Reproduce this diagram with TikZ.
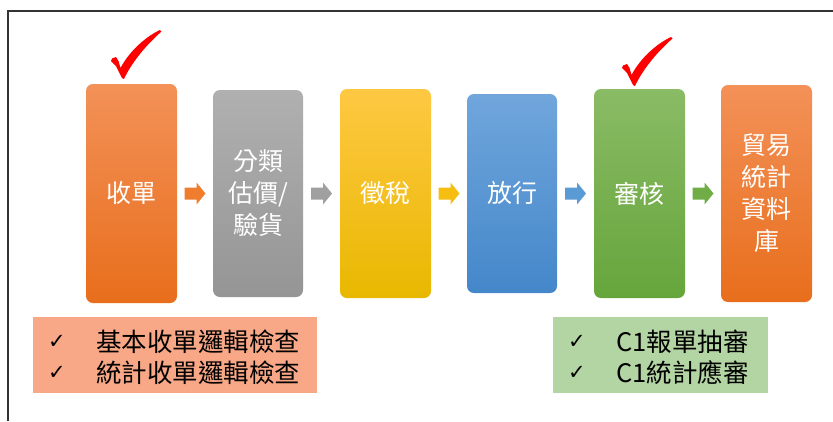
\documentclass[tikz,border=0pt]{standalone}
\usepackage{fontspec}
\setmainfont{Noto Sans CJK TC}
\newfontfamily\symfont{DejaVu Sans}
\usetikzlibrary{calc}
\definecolor{o1}{HTML}{F39158}\definecolor{o2}{HTML}{E86E1C}
\definecolor{g1}{HTML}{B0B0B0}\definecolor{g2}{HTML}{959595}
\definecolor{y1}{HTML}{FFC843}\definecolor{y2}{HTML}{E8B800}
\definecolor{b1}{HTML}{70A6DC}\definecolor{b2}{HTML}{4487CA}
\definecolor{n1}{HTML}{8ABB65}\definecolor{n2}{HTML}{66A53C}
\definecolor{ao}{HTML}{F07D2E}\definecolor{ag}{HTML}{A0A0A0}
\definecolor{ay}{HTML}{F5BE10}\definecolor{ab}{HTML}{5B9BD5}
\definecolor{an}{HTML}{70AD47}
\definecolor{salmon}{HTML}{F8A886}\definecolor{lgreen}{HTML}{B3D4A3}
\definecolor{chk}{HTML}{FF0000}
\tikzset{
  stepbox/.style={rounded corners=7pt, inner sep=0pt, text=white, align=center,
    font=\fontsize{25pt}{32pt}\selectfont},
  notebox/.style={inner sep=0pt, anchor=north west},
  notetext/.style={anchor=west, inner sep=0pt, font=\fontsize{25.5pt}{30pt}\selectfont},
  ticktext/.style={anchor=center, inner sep=0pt, font=\symfont\fontsize{21pt}{24pt}\selectfont},
  barrow/.pic={\path[pic actions] (-10.5,-6) -- (1.5,-6) -- (1.5,-11) -- (10.5,0) -- (1.5,11) -- (1.5,6) -- (-10.5,6) -- cycle;},
  redcheck/.pic={\fill[chk] (0,0) -- (-6,-12) -- (-11,-17) -- (-10,-19.5) -- (-6,-21) -- (-3.5,-17) -- (-1.5,-10)
      .. controls (8,-28) and (25,-42) .. (38,-48) -- (39.5,-46.5)
      .. controls (22,-31) and (9,-14) .. (2,1) -- cycle;}
}
\begin{document}
\begin{tikzpicture}[x=1pt,y=-1pt]
\useasboundingbox (0,0) rectangle (833,421);
\fill[white] (0,0) rectangle (833,421);
\draw[line width=1.6pt, black!80] (8,421) -- (8,11) -- (833,11);

\node[stepbox, minimum width=91pt, minimum height=219pt, top color=o1, bottom color=o2] (s1) at (131.5,193.5) {收單};
\node[stepbox, minimum width=90pt, minimum height=207pt, top color=g1, bottom color=g2] (s2) at (258,193.5) {分類\\估價/\\驗貨};
\node[stepbox, minimum width=91pt, minimum height=209pt, top color=y1, bottom color=y2] (s3) at (385.5,193.5) {徵稅};
\node[stepbox, minimum width=90pt, minimum height=199pt, top color=b1, bottom color=b2] (s4) at (512,193.5) {放行};
\node[stepbox, minimum width=91pt, minimum height=209pt, top color=n1, bottom color=n2] (s5) at (639.5,193.5) {審核};
\node[stepbox, minimum width=91pt, minimum height=217pt, top color=o1, bottom color=o2] (s6) at (766.5,193.5) {貿易\\統計\\資料\\庫};

\coordinate (m1) at ($(s1.east)!0.5!(s2.west)$);
\coordinate (m2) at ($(s2.east)!0.5!(s3.west)$);
\coordinate (m3) at ($(s3.east)!0.5!(s4.west)$);
\coordinate (m4) at ($(s4.east)!0.5!(s5.west)$);
\coordinate (m5) at ($(s5.east)!0.5!(s6.west)$);
\pic[fill=ao] at (m1) {barrow};
\pic[fill=ag] at (m2) {barrow};
\pic[fill=ay] at (m3) {barrow};
\pic[fill=ab] at (m4) {barrow};
\pic[fill=an] at (m5) {barrow};

\pic at (122,78) {redcheck};
\pic at (633,85) {redcheck};

\node[notebox, fill=salmon, minimum width=284pt, minimum height=76pt] (n1) at (33,317) {};
\node[ticktext] (t1) at (57,342) {✓};
\node[ticktext] (t2) at (57,373) {✓};
\node[notetext] (l1) at (96,342) {基本收單邏輯檢查};
\node[notetext] (l2) at (96,373) {統計收單邏輯檢查};

\node[notebox, fill=lgreen, minimum width=215pt, minimum height=76pt] (n2) at (553,317) {};
\node[ticktext] (t3) at (577,342) {✓};
\node[ticktext] (t4) at (577,373) {✓};
\node[notetext] (l3) at (616,342) {C1報單抽審};
\node[notetext] (l4) at (616,373) {C1統計應審};
\end{tikzpicture}
\end{document}
